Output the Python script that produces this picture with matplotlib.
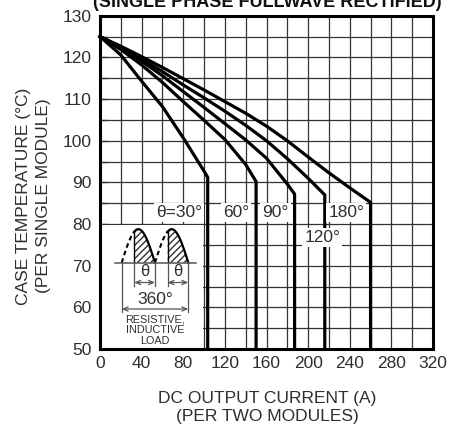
import numpy as np
import matplotlib
matplotlib.use("Agg")
import matplotlib.pyplot as plt
from matplotlib.patches import Rectangle
from matplotlib.ticker import MultipleLocator

plt.rcParams['font.family'] = ['Liberation Sans', 'DejaVu Sans']

# ---------------- data ----------------
x_30 = [0, 20, 40, 60, 80, 100, 103.5]
y_30 = [125, 120.6, 114.3, 108.2, 100.7, 92.7, 91.2]

x_60 = [0, 20, 40, 60, 80, 100, 120, 140, 150]
y_60 = [125, 121.9, 118.2, 114.0, 109.4, 104.9, 100.3, 94.3, 90.2]

x_90 = [0, 20, 40, 60, 80, 100, 120, 140, 160, 180, 187]
y_90 = [125, 122.3, 119.1, 115.6, 111.8, 108.0, 104.1, 100.2, 95.8, 89.6, 87.2]

x_120 = [0, 20, 40, 60, 80, 100, 120, 140, 160, 180, 200, 216]
y_120 = [125, 122.5, 119.6, 116.6, 113.4, 110.3, 107.1, 103.7, 100.0, 95.7, 91.0, 87.0]

x_180 = [0, 20, 40, 60, 80, 100, 120, 140, 160, 180, 200, 220, 240, 260]
y_180 = [125, 122.7, 120.2, 117.6, 114.9, 112.2, 109.4, 106.6, 103.5, 100.0, 96.1, 92.3, 88.7, 85.2]

curve_labels = ["θ=30°", "60°", "90°", "120°", "180°"]
label_x = [76, 131, 168.5, 213.5, 236.5]
label_y = [82.8, 82.8, 82.8, 76.7, 82.8]

x_ticks = [0, 40, 80, 120, 160, 200, 240, 280, 320]
y_ticks = [50, 60, 70, 80, 90, 100, 110, 120, 130]

title = "(SINGLE PHASE FULLWAVE RECTIFIED)"
xlabel_lines = ["DC OUTPUT CURRENT (A)", "(PER TWO MODULES)"]
ylabel_lines = ["CASE TEMPERATURE (°C)", "(PER SINGLE MODULE)"]

# ---------------- figure ----------------
W, H = 450, 432
fig = plt.figure(figsize=(W / 100, H / 100), dpi=100)
fig.patch.set_facecolor('white')
ax = fig.add_axes([100 / W, 1 - 349 / H, 333 / W, 333.2 / H])

XMIN, XMAX, YMIN, YMAX = 0, 320, 50, 130
ax.set_xlim(XMIN, XMAX)
ax.set_ylim(YMIN, YMAX)

TXT = '#2e2e2e'
ax.set_xticks(x_ticks)
ax.set_yticks(y_ticks)
ax.xaxis.set_minor_locator(MultipleLocator(20))
ax.yaxis.set_minor_locator(MultipleLocator(5))
ax.grid(True, which='both', color='#333333', linewidth=0.9, zorder=1)
ax.set_axisbelow(True)
ax.tick_params(axis='x', which='both', length=0, pad=5, labelsize=12.5, labelcolor=TXT)
ax.tick_params(axis='y', which='both', direction='in', length=5, width=1,
               pad=6, labelsize=12.5, labelcolor=TXT, color='#333333')
for s in ax.spines.values():
    s.set_linewidth(2.2)
    s.set_color('black')

# white inset area covering the grid
ax.add_patch(Rectangle((0, 50), 99.4, 29.85, facecolor='white', edgecolor='none', zorder=2))

for xs, ys in [(x_30, y_30), (x_60, y_60), (x_90, y_90), (x_120, y_120), (x_180, y_180)]:
    ax.plot(list(xs) + [xs[-1]], list(ys) + [YMIN], color='black', lw=2.3,
            zorder=3, solid_joinstyle='round', clip_on=False)

for lab, lx, ly in zip(curve_labels, label_x, label_y):
    ax.text(lx, ly, lab, ha='center', va='center', fontsize=12.5, color=TXT, zorder=5,
            bbox=dict(boxstyle='square,pad=0.12', facecolor='white', edgecolor='none'))

# title (clipped at top like the reference)
fig.text(267.5 / W, 1 - 7 / H, title, ha='center', va='baseline', fontsize=13,
         fontweight='bold', color='#111111')

# axis labels
fig.text(267.5 / W, 1 - 398 / H, xlabel_lines[0], ha='center', va='center', fontsize=12.5, color=TXT)
fig.text(267.5 / W, 1 - 417 / H, xlabel_lines[1], ha='center', va='center', fontsize=12.5, color=TXT)
fig.text(24 / W, 1 - 196 / H, ylabel_lines[0], ha='center', va='center', fontsize=12.5,
         color=TXT, rotation=90)
fig.text(43.5 / W, 1 - 196 / H, ylabel_lines[1], ha='center', va='center', fontsize=12.5,
         color=TXT, rotation=90)

# ---------------- inset schematic (pixel-based local coordinates) ----------------
ia = fig.add_axes([101 / W, 1 - 348 / H, 102 / W, 123 / H])
ia.set_xlim(101, 203)
ia.set_ylim(348, 225)
ia.axis('off')
ia.patch.set_alpha(0)

G = '#555555'
base = 262.7
hh = 33.5
half = 33.3
starts = [121.7, 155.0]
fire = 12.6  # dashed part width
for s0 in starts:
    xd = np.linspace(s0, s0 + fire, 30)
    ia.plot(xd, base - hh * np.sin(np.pi * (xd - s0) / half), color='black', lw=1.5,
            ls=(0, (2.2, 1.6)))
    xs = np.linspace(s0 + fire, s0 + half, 60)
    ys = base - hh * np.sin(np.pi * (xs - s0) / half)
    ia.plot(xs, ys, color='black', lw=1.6)
    ia.plot([s0 + fire, s0 + fire], [base, ys[0]], color='black', lw=1.0)
    ia.fill_between(xs, ys, base, facecolor='none', edgecolor='#333333', hatch='/////', lw=0)
ia.plot([115, 196], [base, base], color=G, lw=1.1)

# dimension lines
end2 = starts[1] + half
for xv in [starts[0] + fire, starts[0] + half, starts[1] + fire]:
    ia.plot([xv, xv], [base, 286], color=G, lw=0.9)
for xv in [starts[0], end2]:
    ia.plot([xv, xv], [base, 312], color=G, lw=0.9)

arrow = dict(arrowstyle='<->,head_length=0.35,head_width=0.15', color=G, lw=0.9,
             shrinkA=0, shrinkB=0)
for s0 in starts:
    ia.annotate('', xy=(s0 + fire, 282.5), xytext=(s0 + half, 282.5), arrowprops=arrow)
    ia.text(s0 + (fire + half) / 2, 272, 'θ', ha='center', va='center', fontsize=12, color=TXT)
ia.annotate('', xy=(starts[0], 309), xytext=(end2, 309), arrowprops=arrow)
ia.text(155, 299.5, '360°', ha='center', va='center', fontsize=12.5, color=TXT)
for t, yy in zip(["RESISTIVE,", "INDUCTIVE", "LOAD"], [319.5, 330.2, 341]):
    ia.text(155, yy, t, ha='center', va='center', fontsize=7.8, color=TXT)

fig.savefig('out.png', dpi=100, facecolor='white')
